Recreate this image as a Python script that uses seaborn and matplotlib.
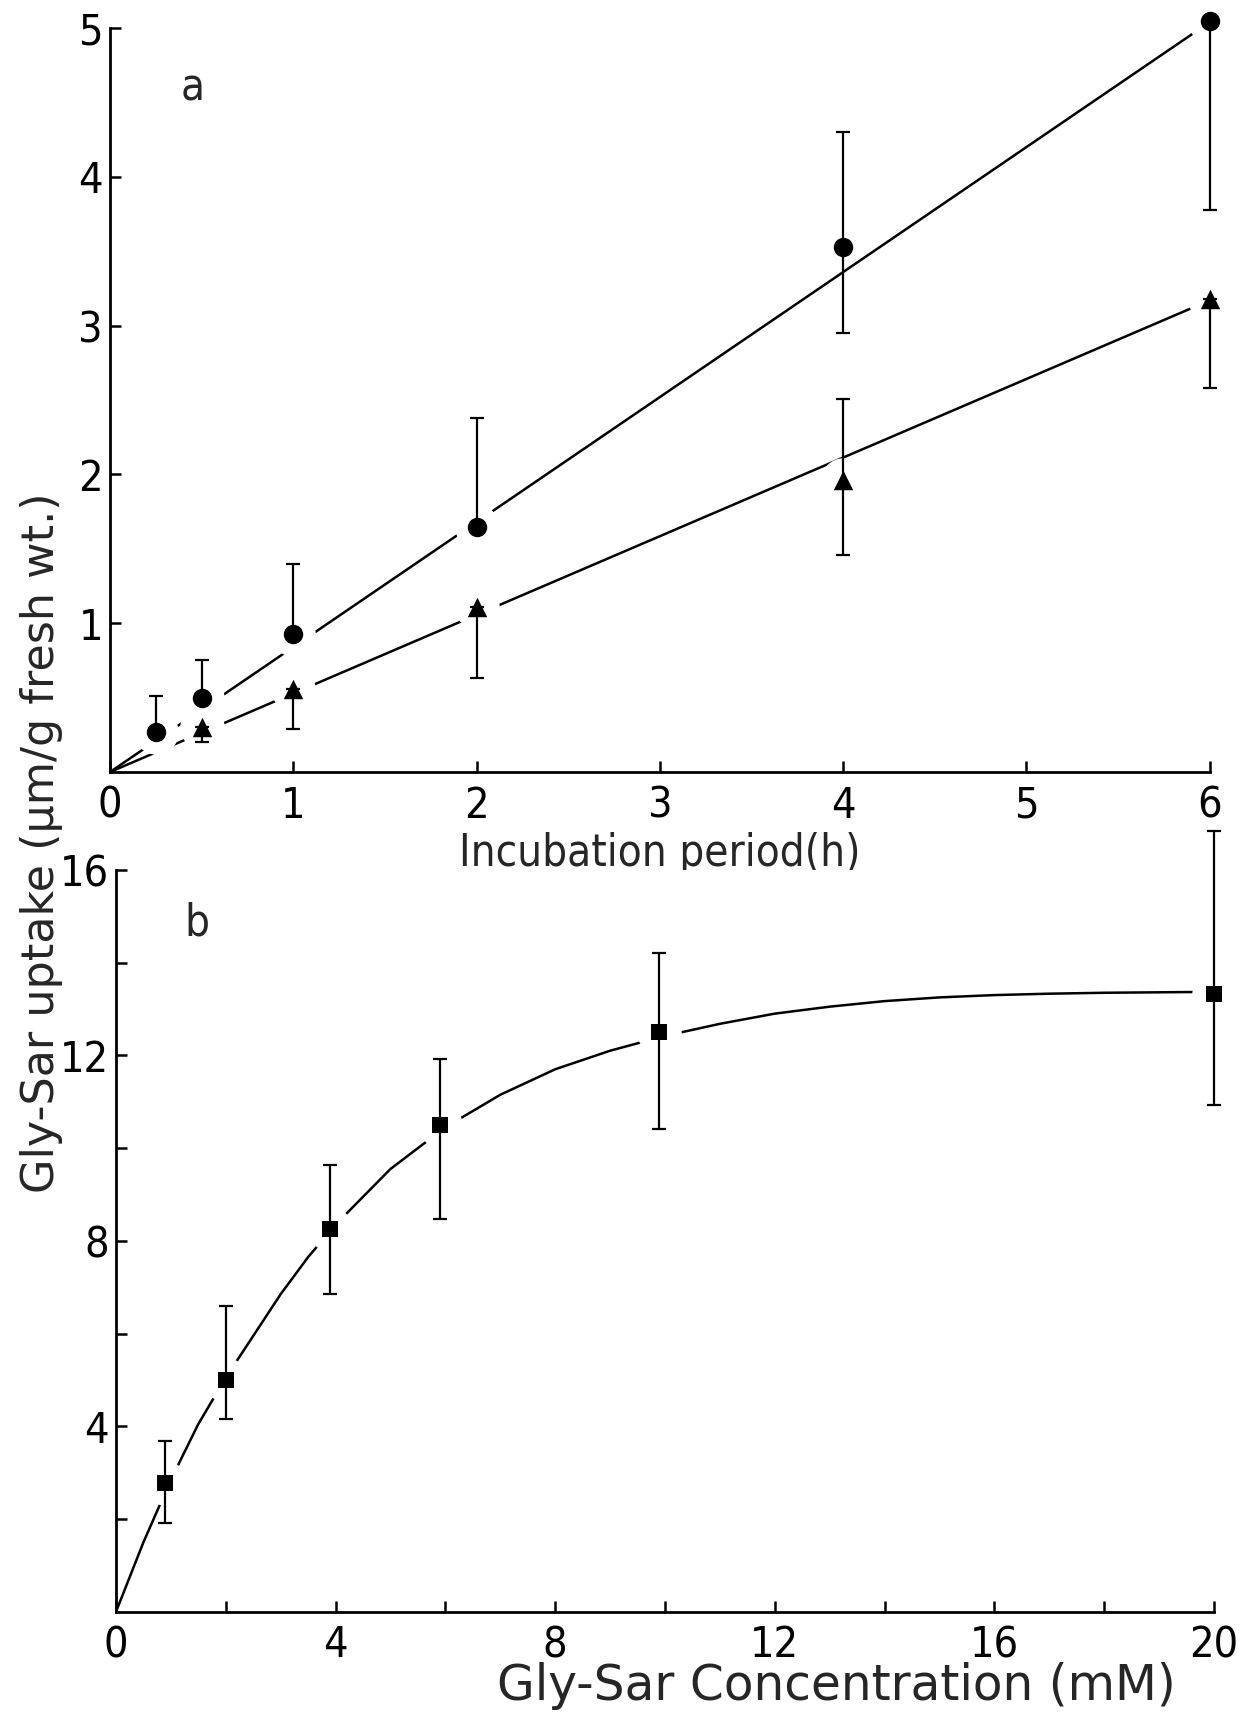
import matplotlib
matplotlib.use("Agg")
import matplotlib.pyplot as plt
import seaborn as sns
import pandas as pd
import numpy as np

# ---------------- data ----------------
# Panel a: uptake vs incubation period
circ_x = [0.25, 0.5, 1, 2, 4, 6]
circ_y = [0.27, 0.50, 0.93, 1.65, 3.53, 5.05]
circ_hi = [0.51, 0.75, 1.40, 2.38, 4.30, np.nan]
circ_lo = [np.nan, np.nan, np.nan, np.nan, 2.95, 3.78]

tri_x = [0.5, 1, 2, 4, 6]
tri_y = [0.30, 0.56, 1.11, 1.96, 3.18]
tri_hi = [np.nan, np.nan, np.nan, 2.51, np.nan]
tri_lo = [0.20, 0.29, 0.63, 1.46, 2.58]

fit_x = [0, 6]
circ_fit = [0, 5.04]
tri_fit = [0, 3.17]

# Panel b: uptake vs Gly-Sar concentration
sq_x = [0.9, 2.0, 3.9, 5.9, 9.9, 20.0]
sq_y = [2.77, 5.01, 8.25, 10.50, 12.51, 13.33]
sq_hi = [3.69, 6.60, 9.63, 11.93, 14.21, 16.84]
sq_lo = [1.92, 4.17, 6.85, 8.48, 10.42, 10.93]

curve_x = [0, 0.5, 1, 1.5, 2, 2.5, 3, 3.5, 4, 5, 6, 7, 8, 9, 10, 11, 12, 13, 14,
           15, 16, 17, 18, 19, 20]
curve_y = [0, 1.5, 2.85, 4.05, 5.05, 5.95, 6.85, 7.65, 8.35, 9.55, 10.45, 11.15,
           11.7, 12.1, 12.42, 12.68, 12.9, 13.05, 13.17, 13.25, 13.3, 13.33,
           13.35, 13.36, 13.37]

a_xticks = [0, 1, 2, 3, 4, 5, 6]
a_yticks = [1, 2, 3, 4, 5]
b_xticks = [0, 4, 8, 12, 16, 20]
b_xminor = [2, 6, 10, 14, 18]
b_yticks = [4, 8, 12, 16]
b_yminor = [2, 6, 10, 14]

# ---------------- style ----------------
sns.set_theme(style="ticks")
plt.rcParams['font.family'] = ['DejaVu Sans']
plt.rcParams['font.stretch'] = 'condensed'
FS_TICK = 31
FS_LAB = 31.5
LW_AX = 2.0
INK = "black"

fig = plt.figure(figsize=(12.44, 17.13), dpi=100)
axa = fig.add_axes([0.0884, 0.5493, 0.884, 0.4343])
axb = fig.add_axes([0.0932, 0.059, 0.8826, 0.4332])


def one_sided(y, hi, lo):
    y = np.asarray(y, float)
    up = np.where(np.isnan(hi), 0, np.asarray(hi, float) - y)
    dn = np.where(np.isnan(lo), 0, y - np.asarray(lo, float))
    return np.vstack([dn, up]), (~np.isnan(hi)) | (~np.isnan(lo))


def draw_series(ax, x, y, hi, lo, marker, ms, halo_mask=None):
    x = np.asarray(x, float)
    y = np.asarray(y, float)
    err, has = one_sided(y, hi, lo)
    if halo_mask is None:
        halo_mask = np.ones(len(x), bool)
    ax.plot(x[halo_mask], y[halo_mask], linestyle="none", marker="o", ms=32,
            mfc="white", mec="white", mew=0, zorder=2, clip_on=False)
    ax.errorbar(x[has], y[has], yerr=err[:, has], fmt="none", ecolor=INK,
                elinewidth=1.6, capsize=5, capthick=1.6, zorder=3, clip_on=False)
    df = pd.DataFrame({"x": x, "y": y})
    sns.scatterplot(data=df, x="x", y="y", ax=ax, marker=marker, s=ms ** 2,
                    color=INK, edgecolor=INK, linewidth=0, zorder=4, clip_on=False)


# ---- panel a ----
for fy in (circ_fit, tri_fit):
    sns.lineplot(x=fit_x, y=fy, ax=axa, color=INK, lw=1.8)
for ln in axa.get_lines():
    ln.set_zorder(1)
cmask = np.array([True, True, True, True, False, True])
draw_series(axa, circ_x, circ_y, circ_hi, circ_lo, "o", 14, cmask)
draw_series(axa, tri_x, tri_y, tri_hi, tri_lo, "^", 14)

axa.set_xlim(0, 6)
axa.set_ylim(0, 5)
axa.set_xticks(a_xticks)
axa.set_yticks(a_yticks)
axa.set_xticklabels([str(t) for t in a_xticks])
axa.set_yticklabels([str(t) for t in a_yticks])
axa.set_xlabel("Incubation period(h)", fontsize=FS_LAB, labelpad=4)
axa.set_ylabel("")
axa.text(0.45, 4.6, "a", fontsize=FS_LAB, ha="center", va="center")

# ---- panel b ----
sns.lineplot(x=curve_x, y=curve_y, ax=axb, color=INK, lw=1.8)
for ln in axb.get_lines():
    ln.set_zorder(1)
draw_series(axb, sq_x, sq_y, sq_hi, sq_lo, "s", 12)
axb.set_xlim(0, 20)
axb.set_ylim(0, 16)
axb.set_xticks(b_xticks)
axb.set_xticks(b_xminor, minor=True)
axb.set_yticks(b_yticks)
axb.set_yticks(b_yminor, minor=True)
axb.set_xticklabels([str(t) for t in b_xticks])
axb.set_yticklabels([str(t) for t in b_yticks])
axb.set_xlabel("Gly-Sar Concentration (mM)", fontsize=35, fontstretch="normal",
               labelpad=4)
axb.xaxis.set_label_coords(0.656, -0.068)
axb.set_ylabel("")
axb.text(1.47, 14.85, "b", fontsize=FS_LAB, ha="center", va="center")

for ax in (axa, axb):
    sns.despine(ax=ax)
    for s in ("left", "bottom"):
        ax.spines[s].set_linewidth(LW_AX)
        ax.spines[s].set_color(INK)
    ax.tick_params(which="both", direction="in", length=8, width=1.8,
                   colors=INK, labelsize=FS_TICK)
    ax.tick_params(axis="x", which="major", pad=9)
    ax.tick_params(axis="y", which="major", pad=5)
    ax.set_facecolor("white")
    ax.grid(False)

fig.patch.set_facecolor("white")
fig.text(0.033, 1 - 843 / 1713, "Gly-Sar uptake (µm/g fresh wt.)", rotation=90,
         fontsize=32, fontstretch="normal", ha="center", va="center")

fig.savefig("out.png", dpi=100, facecolor="white")
